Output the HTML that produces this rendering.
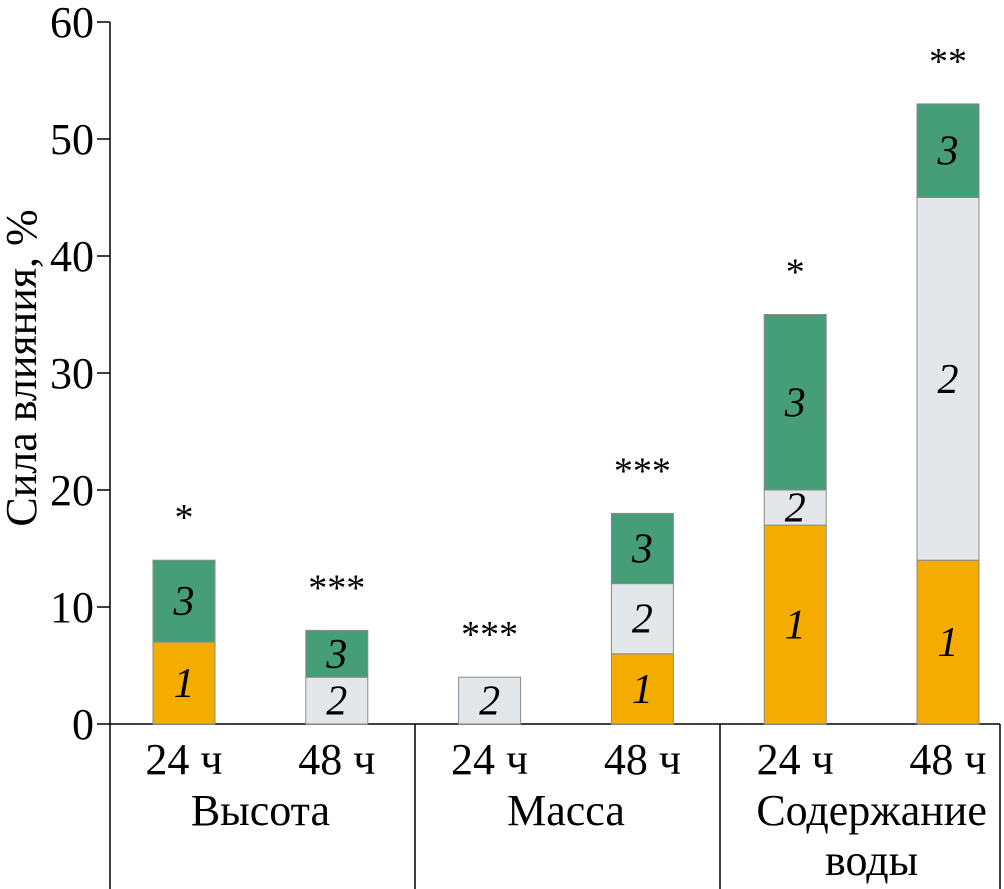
<!DOCTYPE html>
<html><head><meta charset="utf-8"><style>
html,body{margin:0;padding:0;background:#fff}
svg{display:block;font-family:"Liberation Serif",serif}
</style></head><body>
<svg id="chart" width="1004" height="889">
<g id="axes"></g><g id="bars"></g>
</svg>
<script>
const categories=["24 ч","48 ч","24 ч","48 ч","24 ч","48 ч"];
const groups=["Высота","Масса","Содержание|воды"];
const series1=[7,0,0,6,17,14];
const series2=[0,4,4,6,3,31];
const series3=[7,4,0,6,15,8];
const stars=["*","***","***","***","*","**"];
const yTicks=[0,10,20,30,40,50,60];

const NS="http://www.w3.org/2000/svg";
const axes=document.getElementById('axes');
const barsG=document.getElementById('bars');
function y(v){return 724-v*11.7;}
function x(i){return 153+i*152.8;}
const bw=62;
function mk(tag,attrs,parent,text){const e=document.createElementNS(NS,tag);for(const k in attrs)e.setAttribute(k,attrs[k]);if(text!==undefined)e.textContent=text;parent.appendChild(e);return e;}

let l=mk('line',{x1:110,y1:22,x2:110,y2:889,stroke:'#000','stroke-width':1.5},axes);


l=mk('line',{x1:110,y1:724,x2:1000,y2:724,stroke:'#000','stroke-width':1.5},axes);


[415,720,1000].forEach(xx=>{const s=mk('line',{x1:xx,y1:724,x2:xx,y2:889,stroke:'#000','stroke-width':1.5},axes);

});
yTicks.forEach(t=>{
 const tk=mk('line',{x1:97,y1:y(t),x2:110,y2:y(t),stroke:'#000','stroke-width':1.5},axes);
 
 
 const tl=mk('text',{x:94,y:y(t)+15,'text-anchor':'end','font-size':44},axes,String(t));
 
 
});
const yt=mk('text',{x:0,y:0,'text-anchor':'middle','font-size':44,transform:'translate(36,368) rotate(-90)'},axes,'Сила влияния, %');



categories.forEach((c,i)=>{
 const t=mk('text',{x:x(i)+bw/2,y:774,'text-anchor':'middle','font-size':44},axes,c);
 
 
});
groups.forEach((g,gi)=>{
 const cx=(x(gi*2)+x(gi*2+1)+bw)/2;
 g.split('|').forEach((line,li)=>{
  const t=mk('text',{x:cx,y:825+li*50,'text-anchor':'middle','font-size':44},axes,line);
  
  
 });
});

const colors=['#F5AC00','#E4E7EA','#469E79'];
const series=[series1,series2,series3];
categories.forEach((c,i)=>{
 let base=0;
 series.forEach((s,si)=>{
  const v=s[i]; if(!v) return;
  const r=mk('rect',{x:x(i),y:y(base+v),width:bw,height:y(base)-y(base+v),fill:colors[si],stroke:'#8a8a8a','stroke-width':1},barsG);
  
  
  const t=mk('text',{x:x(i)+bw/2,y:(y(base)+y(base+v))/2+14,'text-anchor':'middle','font-size':42,'font-style':'italic'},barsG,String(si+1));
  
  
  base+=v;
 });
 const st=mk('text',{x:x(i)+bw/2,y:y(base)-30,'text-anchor':'middle','font-size':38},barsG,stars[i]);
 
 
});
</script>
</body></html>
